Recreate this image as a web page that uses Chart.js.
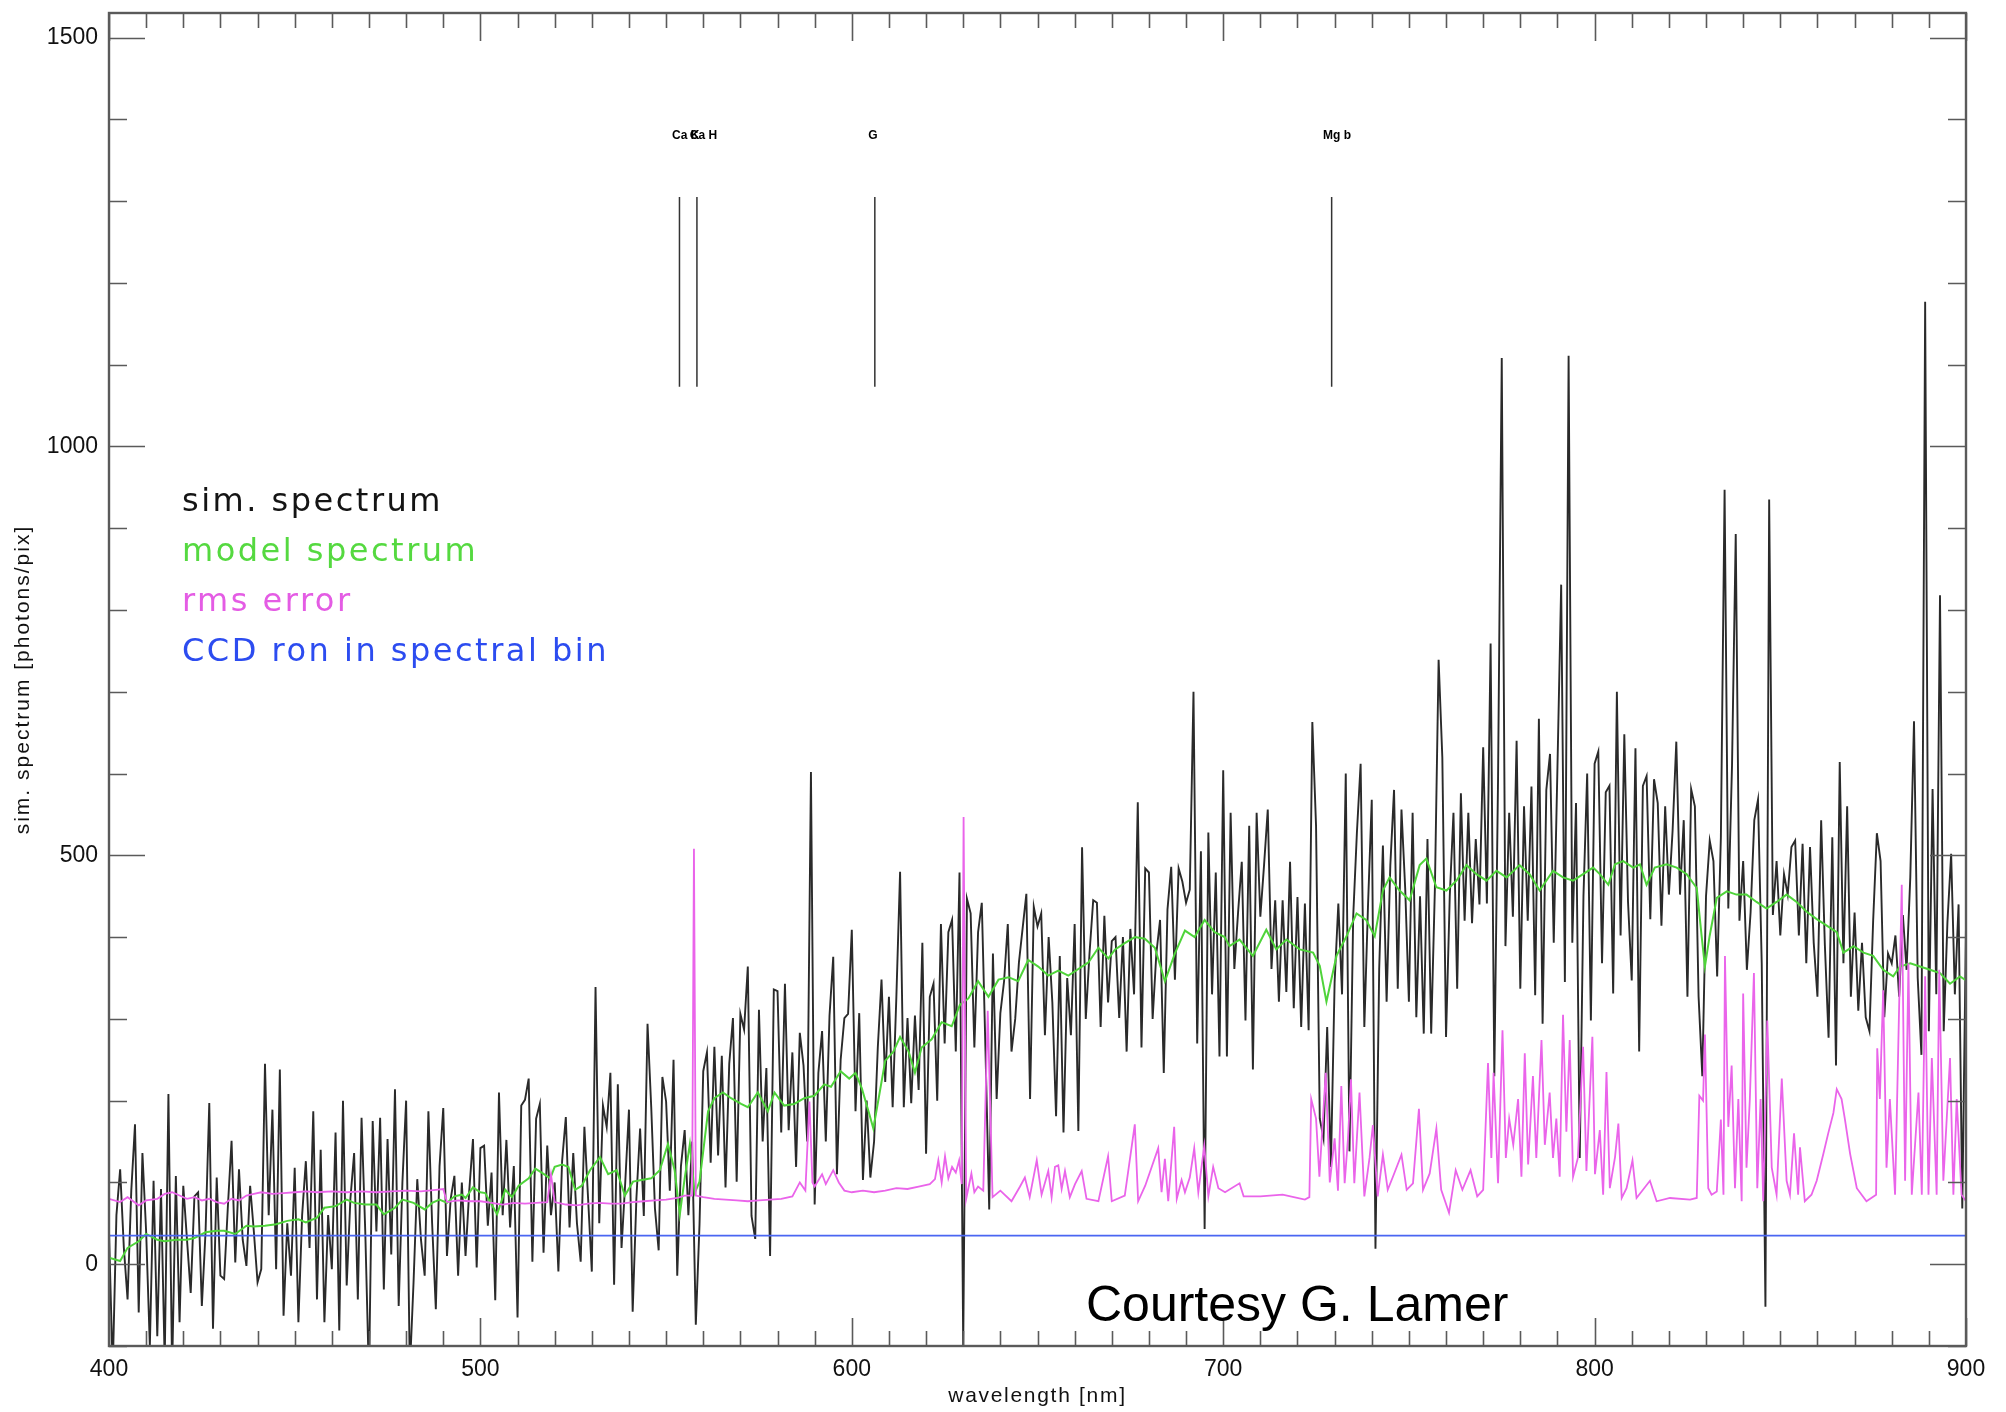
<!DOCTYPE html>
<html>
<head>
<meta charset="utf-8">
<title>sim. spectrum</title>
<script src="https://cdn.jsdelivr.net/npm/chart.js@4.4.1/dist/chart.umd.min.js"></script>
<style>
  html, body { margin: 0; padding: 0; background: #fff; }
  #wrap { width: 2006px; height: 1412px; }
</style>
</head>
<body>
<div id="wrap"><canvas id="spec" width="2006" height="1412"></canvas></div>
<script>
// simulated spectrum, one value per nm from 400 to 900
const simStart = 400;
const simSpectrum = [
  40, -130, 60, 116, 20, -43, 90, 171, -59, 136, 40,
  -100, 102, -88, 92, -120, 208, -130, 108, -71, 96,
  30, -35, 83, 88, -51, 40, 197, -79, 106, -14,
  -18, 70, 151, 2, 116, 30, -2, 96, 40, -22,
  -6, 245, 60, 189, -6, 238, -63, 50, -14, 118,
  -71, 60, 126, 20, 187, -43, 140, -71, 60, -6,
  161, -81, 200, -26, 80, 136, -43, 179, 40, -140,
  175, 40, 179, -31, 153, 12, 214, -51, 100, 200,
  -130, -22, 104, 30, -14, 187, 50, -55, 120, 191,
  10, 80, 108, -14, 100, 10, 90, 153, -4, 142,
  145, 47, 112, -44, 210, 60, 152, 45, 120, -65,
  194, 201, 227, 3, 178, 196, 14, 145, 60, 100,
  -9, 126, 180, 45, 136, 50, 3, 168, 80, -9,
  339, 50, 194, 168, 234, -25, 220, 20, 100, 189,
  -58, 80, 166, 59, 294, 192, 68, 17, 229, 199,
  90, 250, -14, 120, 164, 60, 150, -74, 49, 236,
  259, 124, 266, 133, 255, 94, 245, 301, 101, 306,
  287, 364, 59, 31, 311, 150, 240, 10, 336, 334,
  161, 343, 164, 259, 119, 283, 243, 150, 602, 73,
  234, 285, 150, 304, 376, 110, 250, 301, 306, 409,
  187, 307, 103, 200, 106, 150, 265, 348, 223, 327,
  192, 327, 480, 192, 301, 197, 304, 213, 393, 135,
  327, 343, 200, 416, 270, 406, 421, 260, 479, -100,
  447, 429, 265, 406, 442, 260, 67, 380, 202, 307,
  346, 416, 260, 300, 369, 411, 453, 202, 437, 413,
  429, 280, 400, 320, 181, 377, 161, 350, 280, 416,
  163, 510, 300, 380, 445, 442, 290, 426, 320, 395,
  400, 301, 400, 260, 410, 330, 565, 265, 484, 479,
  300, 380, 421, 234, 434, 486, 348, 484, 468, 442,
  458, 700, 270, 505, 43, 528, 330, 479, 254, 604,
  254, 552, 361, 430, 492, 298, 536, 238, 552, 425,
  488, 556, 361, 445, 321, 445, 333, 492, 313, 449,
  290, 441, 286, 663, 536, 178, 154, 290, 119, 345,
  441, 330, 600, 138, 425, 528, 612, 290, 440, 568,
  19, 361, 512, 321, 488, 580, 337, 556, 460, 321,
  552, 302, 450, 282, 520, 282, 460, 739, 620, 278,
  450, 552, 337, 576, 420, 552, 417, 520, 440, 632,
  441, 759, 230, 592, 1108, 389, 552, 425, 640, 337,
  560, 420, 584, 329, 667, 294, 580, 624, 393, 608,
  831, 345, 1111, 393, 564, 130, 450, 600, 298, 612,
  627, 368, 577, 585, 331, 700, 402, 648, 443, 347,
  631, 260, 585, 597, 422, 593, 564, 414, 560, 452,
  530, 639, 452, 543, 327, 581, 560, 327, 230, 450,
  518, 493, 352, 522, 947, 435, 610, 893, 420, 493,
  360, 430, 543, 568, 368, -52, 935, 427, 493, 402,
  477, 452, 510, 518, 402, 514, 368, 510, 393, 327,
  543, 390, 277, 522, 243, 614, 368, 560, 327, 430,
  310, 393, 302, 285, 420, 527, 493, 302, 380, 368,
  402, 327, 427, 360, 473, 664, 350, 256, 1177, 285,
  581, 330, 818, 285, 418, 502, 330, 440, 68, 414
];

// model spectrum (green)
const modelWave = [400,403,405,408,410,413,415,418,421,423,426,429,431,434,437,439,442,445,448,451,453,456,458,461,464,466,469,472,474,477,479,482,485,487,489,491,493,495,496,498,500,
  501.3,504.5,506.7,508.5,510.3,513,514.8,516.5,518.8,520,522,523.7,525.5,527.3,529.5,532.2,534.4,536.7,538.9,541.1,543.4,546,548.3,550.5,552.3,553.7,555,556.4,557.7,559,561.3,563,565.3,567.5,570.2,572,574.7,577.4,579.2,581.8,584.5,587.2,589.9,592.6,594.4,597,599.3,
  601,602.7,604.5,605.8,607.2,609,611.2,613,615.3,617,618.8,621.5,624.2,626.9,629.1,631.4,634,636.8,639.5,642.2,644.8,647.5,650.2,652.9,655.6,658.3,661,663.7,666.4,669.1,670.9,673.6,676.2,678.9,681.6,684.3,687,689.7,692.3,695,697.7,700.4,
  701.7,704.4,708,711.6,714.3,717,720.6,724.2,726,727.8,730.5,733.2,735.9,738.5,740.8,743,744.8,747.5,750.2,752.9,754.7,757.4,760.1,762.8,765.5,768.2,770.9,773.6,776.3,779.8,782.5,785.2,788.8,791.5,794.2,796.9,799.6,
  801.4,803.7,805.5,807.7,810.4,812.2,814,816.2,819.4,822.1,824.8,827.5,828.8,829.7,831,832.9,835.6,838.2,840.9,843.6,846.3,849,851.7,854.4,857.1,859.8,862.5,865.2,867,869.7,872.4,875,877.7,880.4,882.2,885,887.6,890.3,893,895.7,898.4,900];
const modelVal = [8,4,20,28,37,30,28,30,30,32,39,41,41,37,47,46,47,49,53,55,51,57,69,71,79,75,73,73,61,69,79,75,67,75,79,75,83,85,81,94,88,
  87,61,91,82,96,105,117,112,105,119,122,119,91,96,115,131,110,115,84,101,103,105,115,147,115,61,105,147,87,101,187,203,210,203,196,192,210,187,210,194,196,203,206,220,217,236,227,
  234,215,187,166,202,249,260,278,260,234,265,275,296,291,317,325,346,327,348,351,346,372,364,353,359,353,361,369,387,374,385,393,400,398,387,346,380,408,400,421,406,400,
  389,397,377,409,385,397,385,381,365,321,377,401,429,421,401,457,473,457,445,488,496,461,457,469,488,477,469,481,473,488,477,457,481,473,469,477,485,
  477,464,489,493,485,489,464,485,489,485,477,460,402,364,402,448,456,452,452,443,435,443,452,443,431,422,414,406,381,389,381,377,360,352,364,368,364,360,356,343,352,347];

// rms error (magenta)
const rmsWave = [400,403,405,408,410,413,415,417,419,421,423,425,427,429,431,433,435,437,439,441,444,447,450,453,456,460,464,468,472,476,480,484,488,490,491,494,497,500,
  503,506,509,512,515,518,519,520,523,526,529,532,535,538,541,544,547,550,553,555,557,557.5,558,560,563,566,569,572,575,578,581,584,586,587.5,588.6,589.4,590,592,593,595,596.5,598,600,
  603,606,609,612,615,618,621,622.4,623.3,624.2,625.1,626,627,628,628.9,629.6,630.1,630.8,632.2,633,634,635.4,636.6,637.9,640,643,645.3,646.6,647.9,649.8,651.1,652.9,653.8,654.7,655.6,656.5,657.4,658.7,660.1,661.9,663.2,666.4,669,670,673.5,676.2,677.1,679,682.5,683.4,684.3,685.2,686.8,687.5,688.8,689.7,691,692.2,693.3,694.9,696,697.3,698.7,700.5,
  704.4,705.5,710,716,722,723.2,723.7,725,725.9,727.6,728.7,730,730.9,731.8,732.7,733.6,734.4,735.3,736.7,738,739.4,740.3,741.6,743,744.3,745.7,748,749.4,751.1,752.7,753.8,755.6,757.4,758.7,760.8,762.6,764.4,766.6,768.4,770,771.3,772.2,772.8,774,775.2,776.1,777,778.1,779.4,780.3,781.2,782.1,783.4,784.3,785.7,786.6,787.9,788.8,789.7,790.6,791.5,792.4,793.3,794.2,795.5,796.9,797.8,799.4,800.1,
  801.4,802.3,803.2,804.1,805.5,806.4,807.3,808.6,810.2,811.3,814.9,816.7,820.3,825.7,827.5,828.2,829.2,829.7,830.6,831.5,832.9,834,834.7,835.1,836,836.9,837.8,838.7,839.6,840,840.9,841.8,842.9,843.8,844.7,845.4,846.5,847.7,849,850.4,851.7,852.6,853.7,854.8,855.3,856.6,858.4,859.8,861.6,862.9,864.3,865.2,866.5,867.4,868.8,870.6,873.2,875.8,876.1,876.8,877.7,878.6,879.5,880.9,882.7,883.6,884.5,885.4,887.2,888.1,889,889.9,890.8,892.1,892.8,893.9,895.7,896.6,897.5,898.8,900];
const rmsVal = [80,76,82,72,78,80,86,88,84,80,82,78,80,76,74,80,78,84,86,88,86,87,88,89,88,89,88,89,88,89,90,89,91,92,76,78,77,77,
  75,73,75,74,75,76,110,76,73,72,74,75,74,74,76,77,78,79,81,84,84,508,84,82,80,79,78,77,78,79,80,83,100,90,199,100,95,110,98,115,100,90,88,
  90,88,90,93,92,95,98,104,127,100,132,105,119,112,127,98,547,80,111,88,95,90,310,82,90,77,95,106,82,127,85,114,82,119,121,92,114,82,98,114,80,77,132,77,84,171,77,96,142,88,129,77,168,80,103,88,106,142,88,145,83,119,93,88,
  99,83,83,85,79,82,202,178,107,234,100,154,90,218,99,154,226,99,210,83,130,170,83,134,91,107,134,91,99,190,91,111,166,91,63,115,91,115,83,91,246,130,234,99,286,130,178,146,202,107,258,122,230,130,274,146,210,130,178,107,305,162,274,107,130,266,114,278,110,
  164,85,235,93,131,172,81,93,127,81,102,77,81,79,81,206,200,281,93,85,89,177,85,377,168,243,93,202,77,331,118,202,356,93,202,77,298,118,85,227,102,85,160,85,143,77,85,102,135,160,185,214,202,177,135,93,77,85,264,202,335,118,202,85,464,102,368,85,210,85,352,85,252,85,360,102,252,85,202,85,77];

// CCD read-out noise in spectral bin (blue)
const ccdWave = [400, 900];
const ccdVal = [35, 35];

// absorption line markers
const markWave = [553.6, 558.3, 606.2, 729.2];
const markLow = 1073;
const markHigh = 1305;
const markLabels = ['Ca K', 'Ca H', 'G', 'Mg b'];
const markLabelWave = [551.6, 556.4, 604.4, 726.9];
const markLabelY = 1376;

// axes and ticks
const xMin = 400, xMax = 900, xMinor = 10;
const yMin = -100, yMax = 1530, yMinor = 100;
const xTickLabels = [400, 500, 600, 700, 800, 900];
const yTickLabels = [0, 500, 1000, 1500];

const legendItems = [
  { text: 'sim. spectrum', color: '#141414' },
  { text: 'model spectrum', color: '#55d940' },
  { text: 'rms error', color: '#e45ce4' },
  { text: 'CCD ron in spectral bin', color: '#2c4cf0' }
];

const pts = (xs, ys) => xs.map((x, i) => ({ x: x, y: ys[i] }));
const simPts = simSpectrum.map((v, i) => ({ x: simStart + i, y: v }));
const markPts = [];
markWave.forEach(w => {
  markPts.push({ x: w, y: markLow }, { x: w, y: markHigh }, { x: w, y: null });
});
const xTicks = [], yTicks = [];
for (let v = xMin; v <= xMax; v += xMinor) xTicks.push(v);
for (let v = yMin; v <= 1500; v += yMinor) yTicks.push(v);

const sansFont = "'Liberation Sans', Arial, sans-serif";

const framePlugin = {
  id: 'frame',
  afterDatasetsDraw(chart) {
    const { ctx, chartArea: a, scales: { x, y } } = chart;
    ctx.save();
    ctx.strokeStyle = '#5a5a5a';
    ctx.lineWidth = 1.6;
    ctx.beginPath();
    xTicks.forEach(v => {
      const px = Math.round(x.getPixelForValue(v)) + 0.5;
      const len = xTickLabels.includes(v) ? 28 : 15;
      ctx.moveTo(px, a.bottom); ctx.lineTo(px, a.bottom - len);
      ctx.moveTo(px, a.top); ctx.lineTo(px, a.top + len);
    });
    yTicks.forEach(v => {
      const py = Math.round(y.getPixelForValue(v)) + 0.5;
      const len = yTickLabels.includes(v) ? 36 : 18;
      ctx.moveTo(a.left, py); ctx.lineTo(a.left + len, py);
      ctx.moveTo(a.right, py); ctx.lineTo(a.right - len, py);
    });
    ctx.stroke();
    ctx.lineWidth = 2.4;
    ctx.strokeRect(a.left, a.top, a.right - a.left, a.bottom - a.top);
    ctx.restore();
  },
  afterDraw(chart) {
    const { ctx, chartArea: a, scales: { x, y } } = chart;
    ctx.save();
    // line identifications
    ctx.fillStyle = '#000';
    ctx.font = 'bold 12px ' + sansFont;
    ctx.textBaseline = 'alphabetic';
    markLabels.forEach((s, i) => {
      ctx.fillText(s, x.getPixelForValue(markLabelWave[i]), y.getPixelForValue(markLabelY));
    });
    // axis titles
    ctx.fillStyle = '#111';
    ctx.font = '21px ' + sansFont;
    ctx.textAlign = 'center';
    ctx.textBaseline = 'middle';
    ctx.letterSpacing = '1.7px';
    ctx.fillText('wavelength [nm]', (a.left + a.right) / 2, 1396);
    ctx.save();
    ctx.translate(23, (a.top + a.bottom) / 2);
    ctx.rotate(-Math.PI / 2);
    ctx.letterSpacing = '2px';
    ctx.fillText('sim. spectrum [photons/pix]', 0, 0);
    ctx.restore();
    // legend
    ctx.textAlign = 'left';
    ctx.textBaseline = 'alphabetic';
    ctx.font = "32px 'DejaVu Sans', sans-serif";
    ctx.letterSpacing = '2.5px';
    legendItems.forEach((it, i) => {
      ctx.fillStyle = it.color;
      ctx.fillText(it.text, 182, 511 + i * 50);
    });
    ctx.letterSpacing = '0px';
    // credit
    ctx.fillStyle = '#000';
    ctx.font = '50px ' + sansFont;
    ctx.fillText('Courtesy G. Lamer', 1086, 1321);
    ctx.restore();
  }
};

new Chart(document.getElementById('spec'), {
  type: 'line',
  data: {
    datasets: [
      { label: 'CCD ron in spectral bin', data: pts(ccdWave, ccdVal), borderColor: '#4a66f2', borderWidth: 1.8, order: 0 },
      { label: 'rms error', data: pts(rmsWave, rmsVal), borderColor: '#ea64ea', borderWidth: 1.8, order: 1 },
      { label: 'model spectrum', data: pts(modelWave, modelVal), borderColor: '#4fd43a', borderWidth: 2, order: 2 },
      { label: 'sim. spectrum', data: simPts, borderColor: '#2a2a2a', borderWidth: 1.9, order: 3 },
      { label: 'lines', data: markPts, borderColor: '#333', borderWidth: 1.5, spanGaps: false, order: 4 }
    ]
  },
  options: {
    responsive: false,
    animation: false,
    events: [],
    layout: { padding: { top: 13, right: 40, left: 0, bottom: 0 } },
    elements: { point: { radius: 0 }, line: { tension: 0, fill: false } },
    plugins: { legend: { display: false }, tooltip: { enabled: false } },
    scales: {
      x: {
        type: 'linear', min: xMin, max: xMax,
        grid: { display: false, drawTicks: false },
        border: { display: false },
        afterBuildTicks: s => { s.ticks = xTicks.map(v => ({ value: v })); },
        ticks: {
          autoSkip: false, maxRotation: 0, padding: 10,
          color: '#111', font: { family: sansFont, size: 23 },
          callback: v => (xTickLabels.includes(Math.round(v)) ? String(Math.round(v)) : '')
        },
        afterFit: s => { s.height = 66; s.paddingLeft = 0; s.paddingRight = 0; }
      },
      y: {
        type: 'linear', min: yMin, max: yMax,
        grid: { display: false, drawTicks: false },
        border: { display: false },
        afterBuildTicks: s => { s.ticks = yTicks.map(v => ({ value: v })); },
        ticks: {
          autoSkip: false, padding: 11,
          color: '#111', font: { family: sansFont, size: 23 },
          callback: v => (yTickLabels.includes(Math.round(v)) ? String(Math.round(v)) : '')
        },
        afterFit: s => { s.width = 109; s.paddingTop = 0; s.paddingBottom = 0; }
      }
    }
  },
  plugins: [framePlugin]
});
</script>
</body>
</html>
